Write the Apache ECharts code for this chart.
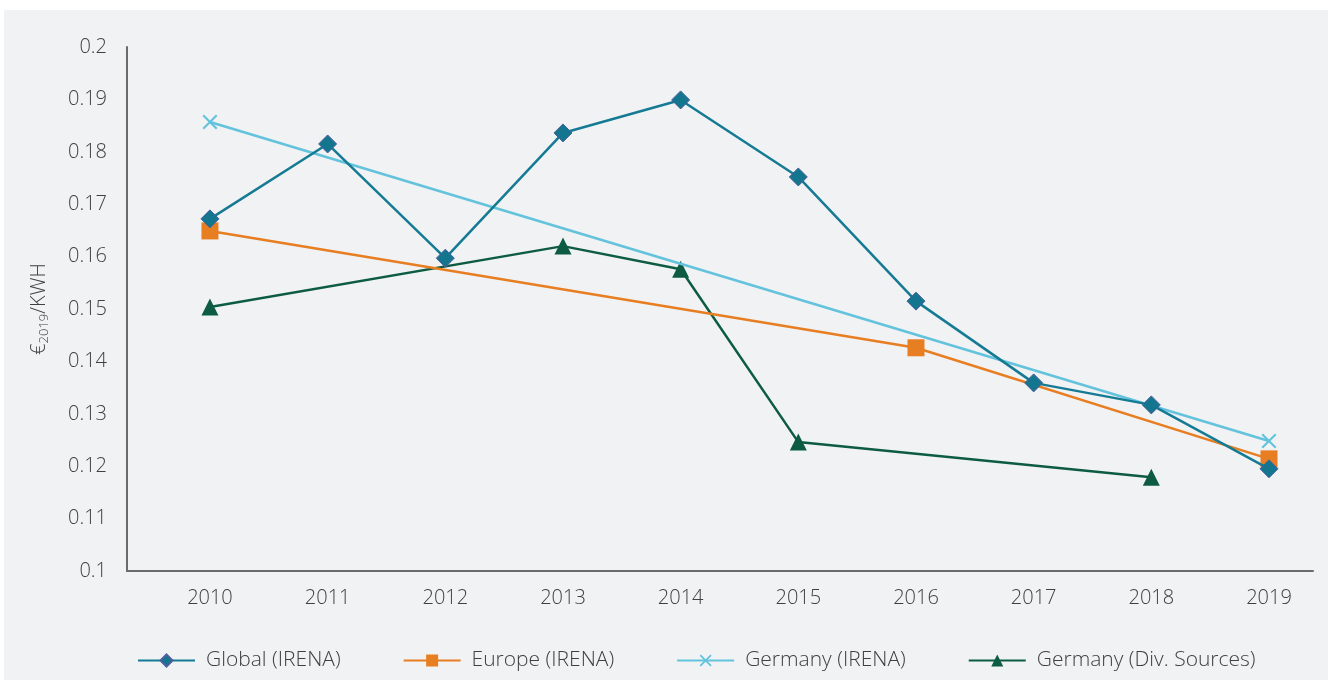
<!DOCTYPE html>
<html>
<head>
<meta charset="utf-8">
<script src="https://cdn.jsdelivr.net/npm/echarts@6/dist/echarts.min.js"></script>
<style>
  html, body { margin: 0; padding: 0; background: #fff; }
  #chart { width: 1330px; height: 682px; }
</style>
</head>
<body>
<div id="chart"></div>
<script>
// years on the x axis
const years = [2010, 2011, 2012, 2013, 2014, 2015, 2016, 2017, 2018, 2019];

// cost per kWh (null = no point)
const globalIrena  = [0.1672, 0.1815, 0.1597, 0.1836, 0.1899, 0.1752, 0.1515, 0.1359, 0.1317, 0.1195];
const europeIrena  = [0.1649, null, null, null, null, null, 0.1426, null, null, 0.1214];
const germanyIrena = [0.1857, null, null, null, null, null, null, null, null, 0.1248];
const germanyDiv   = [0.1504, null, null, 0.1620, 0.1576, 0.1246, null, null, 0.1179, null];

const seriesNames = ['Global (IRENA)', 'Europe (IRENA)', 'Germany (IRENA)', 'Germany (Div. Sources)'];

function pairs(vals) {
  const out = [];
  vals.forEach((v, i) => { if (v != null) out.push([years[i], v]); });
  return out;
}

const FONT = '"Open Sans", "Noto Sans", sans-serif';
const TXT = '#404040';
const X_MARK = 'path://M1,0L5,4L9,0L10,1L6,5L10,9L9,10L5,6L1,10L0,9L4,5L0,1Z';

let myChart = echarts.init(document.getElementById('chart'));

var option = {
  backgroundColor: '#ffffff',
  animation: false,
  textStyle: { fontFamily: FONT },
  graphic: [{
    type: 'rect',
    z: -10,
    silent: true,
    shape: { x: 4, y: 10, width: 1324, height: 670 },
    style: { fill: '#f1f2f4' }
  }],
  grid: { left: 127, top: 47, right: 17, bottom: 111 },
  legend: {
    top: 645,
    left: 132,
    itemWidth: 57,
    itemHeight: 15,
    itemGap: 62,
    textStyle: { fontSize: 21, fontWeight: 300, color: TXT, fontFamily: FONT, padding: [0, 0, 0, 6] },
    data: seriesNames
  },
  xAxis: {
    type: 'value',
    min: 2009.295,
    max: 2019.374,
    splitLine: { show: false },
    axisTick: { show: false },
    axisLine: { lineStyle: { color: '#6b6b6b', width: 2 } },
    axisLabel: {
      customValues: years,
      formatter: v => String(v),
      margin: 17,
      fontSize: 20,
      fontWeight: 300,
      color: TXT
    }
  },
  yAxis: {
    type: 'value',
    min: 0.1,
    max: 0.2,
    interval: 0.01,
    splitLine: { show: false },
    axisTick: { show: false },
    axisLine: { show: true, lineStyle: { color: '#6b6b6b', width: 2 } },
    axisLabel: {
      margin: 20,
      fontSize: 20,
      fontWeight: 300,
      color: TXT,
      formatter: v => String(+v.toFixed(2))
    },
    name: '€{sub|2019}/KWH',
    nameLocation: 'middle',
    nameRotate: 90,
    nameGap: 76,
    nameTextStyle: {
      fontSize: 20,
      fontWeight: 300,
      color: TXT,
      rich: { sub: { fontSize: 13, fontWeight: 300, color: TXT, verticalAlign: 'bottom', padding: [10, 0, 0, 0] } }
    }
  },
  series: [
    {
      name: seriesNames[0],
      type: 'line',
      data: pairs(globalIrena),
      symbol: 'diamond',
      symbolSize: 18,
      lineStyle: { color: '#157a93', width: 2.5 },
      itemStyle: { color: '#14758f', borderColor: '#4a5f9c', borderWidth: 1 },
      z: 4
    },
    {
      name: seriesNames[1],
      type: 'line',
      data: pairs(europeIrena),
      symbol: 'rect',
      symbolSize: 17,
      lineStyle: { color: '#e87e22', width: 2.5 },
      itemStyle: { color: '#e87e22' },
      z: 3
    },
    {
      name: seriesNames[2],
      type: 'line',
      data: pairs(germanyIrena),
      symbol: X_MARK,
      symbolSize: 15,
      lineStyle: { color: '#63c3dc', width: 2.5 },
      itemStyle: { color: '#63c3dc' },
      z: 2
    },
    {
      name: seriesNames[3],
      type: 'line',
      data: pairs(germanyDiv),
      symbol: 'triangle',
      symbolSize: 17,
      lineStyle: { color: '#0d5c42', width: 2.5 },
      itemStyle: { color: '#0d5c42' },
      z: 1
    }
  ]
};

myChart.setOption(option);
</script>
</body>
</html>
